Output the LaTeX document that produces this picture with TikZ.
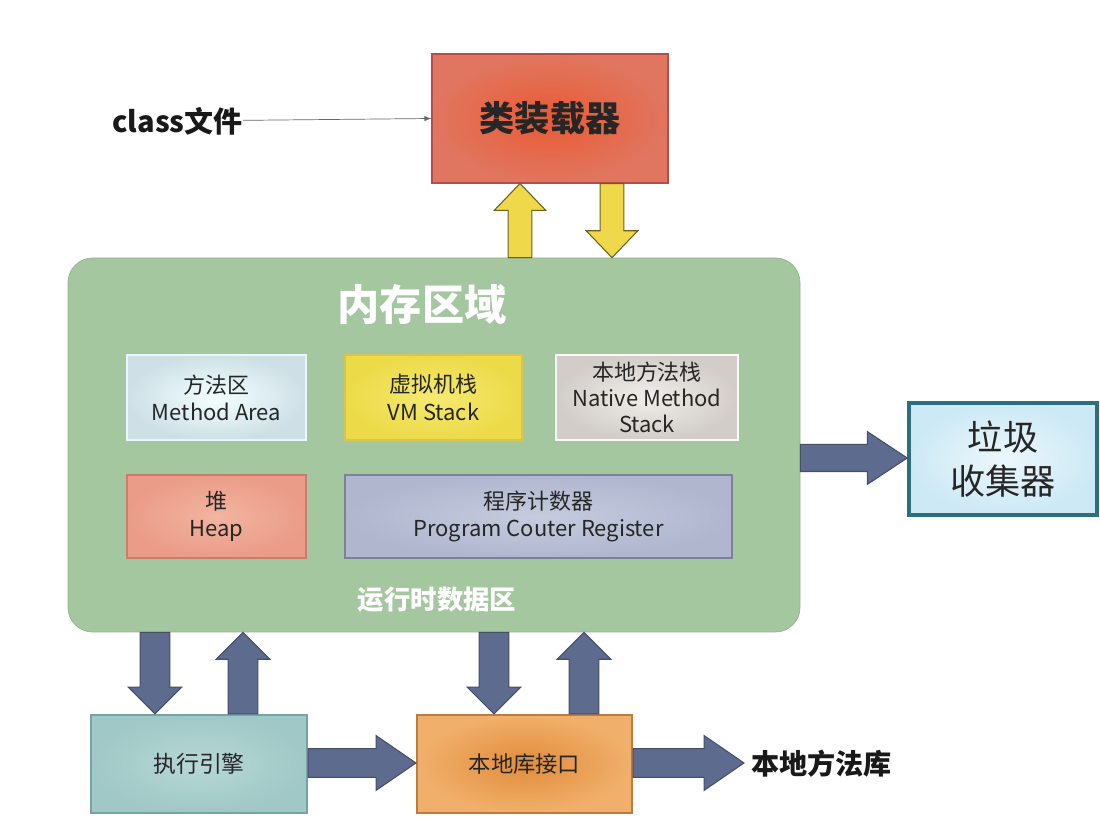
\documentclass[tikz,border=0pt]{standalone}
\usepackage{fontspec}
\setmainfont{Noto Sans CJK SC}
\usepackage{xcolor}
\usetikzlibrary{calc}

\definecolor{grunbg}{HTML}{A4C7A0}
\definecolor{pfeildunkel}{HTML}{5C6B8E}
\definecolor{pfeilrand}{HTML}{444F68}
\definecolor{pfeilgelb}{HTML}{EFD94A}
\definecolor{gelbrand}{HTML}{6B5F20}

% Breite Blockpfeile: Schaft/2, Kopf/2, Kopflaenge
\newcommand\pfeilmass[3]{\def\pschaft{#1}\def\pkopf{#2}\def\plang{#3}}
\newcommand\vpfeil[4][]{%
  \coordinate (pfx) at (#2,0);
  \path[#1] let \p1=(pfx |- #3), \p2=(pfx |- #4), \n1={sign(\y1-\y2)} in
    ({\x1-\pschaft},\y1) -- ({\x1-\pschaft},{\y2+\n1*\plang}) -- ({\x1-\pkopf},{\y2+\n1*\plang})
    -- (\x2,\y2) -- ({\x1+\pkopf},{\y2+\n1*\plang}) -- ({\x1+\pschaft},{\y2+\n1*\plang})
    -- ({\x1+\pschaft},\y1) -- cycle;}
\newcommand\hpfeil[4][]{%
  \coordinate (pfy) at (0,#2);
  \path[#1] let \p1=(#3 |- pfy), \p2=(#4 |- pfy), \n1={sign(\x1-\x2)} in
    (\x1,{\y1-\pschaft}) -- ({\x2+\n1*\plang},{\y1-\pschaft}) -- ({\x2+\n1*\plang},{\y1-\pkopf})
    -- (\x2,\y1) -- ({\x2+\n1*\plang},{\y1+\pkopf}) -- ({\x2+\n1*\plang},{\y1+\pschaft})
    -- (\x1,{\y1+\pschaft}) -- cycle;}
\def\px{0.02cm}

\begin{document}
\begin{tikzpicture}[x=0.02cm,y=-0.02cm,>=latex,
  kasten/.style={inner sep=0pt, align=center, text=black!85, line width=1.2pt,
    font=\fontsize{12.5}{15.5}\selectfont},
  dunkel/.style={fill=pfeildunkel, draw=pfeilrand, line width=0.6pt},
  gelb/.style={fill=pfeilgelb, draw=gelbrand, line width=0.6pt}]

\useasboundingbox[fill=white] (0,0) rectangle (1100,830);

%Klassenlader
\node[kasten, minimum width=236*\px, minimum height=129*\px, draw=red!60!black!70,
  line width=0.6pt, shading=radial, inner color={rgb,255:red,234;green,90;blue,52},
  outer color={rgb,255:red,224;green,118;blue,96},
  font=\fontsize{20}{24}\selectfont\bfseries] (lader) at (550,118.5) {类装载器};
\node[anchor=east, inner sep=0pt, font=\fontsize{16.5}{19}\selectfont\bfseries,
  text=black!90] (klasse) at (243,121) {class文件};
\draw[->, thin, color=gray!80!black] (klasse) to (lader.west);

%Speicherbereich
\node[minimum width=732*\px, minimum height=374*\px, rounded corners=14pt,
  fill=grunbg, draw=grunbg!90!black, inner sep=0pt] (speicher) at (434,445) {};
\node[text=white, font=\fontsize{24}{28}\selectfont\bfseries] (titel) at (422,305) {内存区域};
\node[text=white, font=\fontsize{15}{18}\selectfont\bfseries] (laufzeit) at (437,600) {运行时数据区};

\node[kasten, minimum width=179*\px, minimum height=85*\px, draw=white!90!cyan,
  shading=radial, inner color=white!95!cyan, outer color={rgb,255:red,206;green,224;blue,230}]
  (methode) at (216.5,397.5) {方法区\\Method Area};
\node[kasten, minimum width=177*\px, minimum height=85*\px, draw={rgb,255:red,214;green,198;blue,80},
  shading=radial, inner color={rgb,255:red,246;green,234;blue,112},
  outer color={rgb,255:red,236;green,218;blue,72}]
  (vmstack) at (433.5,397.5) {虚拟机栈\\VM Stack};
\node[kasten, minimum width=182*\px, minimum height=85*\px, draw=white!95!gray,
  shading=radial, inner color={rgb,255:red,240;green,238;blue,235},
  outer color={rgb,255:red,210;green,205;blue,200}, font=\fontsize{12.5}{14.8}\selectfont]
  (nativ) at (647,397.5) {本地方法栈\\Native Method\\Stack};
\node[kasten, minimum width=179*\px, minimum height=83*\px, draw={rgb,255:red,204;green,124;blue,106},
  shading=radial, inner color={rgb,255:red,242;green,180;blue,160},
  outer color={rgb,255:red,234;green,156;blue,136}]
  (heap) at (216.5,516.5) {堆\\Heap};
\node[kasten, minimum width=387*\px, minimum height=83*\px, draw={rgb,255:red,122;green,130;blue,154},
  shading=radial, inner color={rgb,255:red,198;green,204;blue,222},
  outer color={rgb,255:red,176;green,182;blue,206}]
  (zaehler) at (538.5,516.5) {程序计数器\\Program Couter Register};

%Garbage Collector
\node[kasten, minimum width=188*\px, minimum height=112*\px, draw={rgb,255:red,43;green,110;blue,126},
  line width=2pt, shading=radial, inner color={rgb,255:red,236;green,247;blue,252},
  outer color={rgb,255:red,204;green,233;blue,245}, font=\fontsize{20}{25.5}\selectfont]
  (gc) at (1003,459) {垃圾\\收集器};

%Ausfuehrung und Schnittstelle
\node[kasten, minimum width=216*\px, minimum height=98*\px, draw={rgb,255:red,118;green,164;blue,164},
  shading=radial, inner color={rgb,255:red,182;green,216;blue,214},
  outer color={rgb,255:red,160;green,200;blue,198}, font=\fontsize{13}{16}\selectfont]
  (engine) at (199,764) {执行引擎};
\node[kasten, minimum width=215*\px, minimum height=98*\px, draw={rgb,255:red,190;green,124;blue,60},
  shading=radial, inner color={rgb,255:red,226;green,140;blue,58},
  outer color={rgb,255:red,240;green,176;blue,108}, font=\fontsize{12.7}{16}\selectfont]
  (schnitt) at (524.5,764) {本地库接口};
\node[anchor=west, inner sep=4pt, font=\fontsize{16}{19}\selectfont\bfseries, text=black!90]
  (bib) at (744,764) {本地方法库};

%Pfeile
\pfeilmass{6.8pt}{14.7pt}{15.3pt}
\vpfeil[gelb]{520}{speicher.north}{lader.south}
\vpfeil[gelb]{612}{lader.south}{speicher.north}

\pfeilmass{8.5pt}{15.3pt}{15.3pt}
\vpfeil[dunkel]{155}{speicher.south}{engine.north}
\vpfeil[dunkel]{243}{engine.north}{speicher.south}
\vpfeil[dunkel]{494}{speicher.south}{schnitt.north}
\vpfeil[dunkel]{584}{schnitt.north}{speicher.south}

\pfeilmass{7.7pt}{15pt}{22.7pt}
\hpfeil[dunkel]{458}{speicher.east}{gc.west}

\pfeilmass{8.2pt}{15.6pt}{22.7pt}
\hpfeil[dunkel]{763}{engine.east}{schnitt.west}
\hpfeil[dunkel]{763}{schnitt.east}{bib.west}

\end{tikzpicture}
\end{document}
